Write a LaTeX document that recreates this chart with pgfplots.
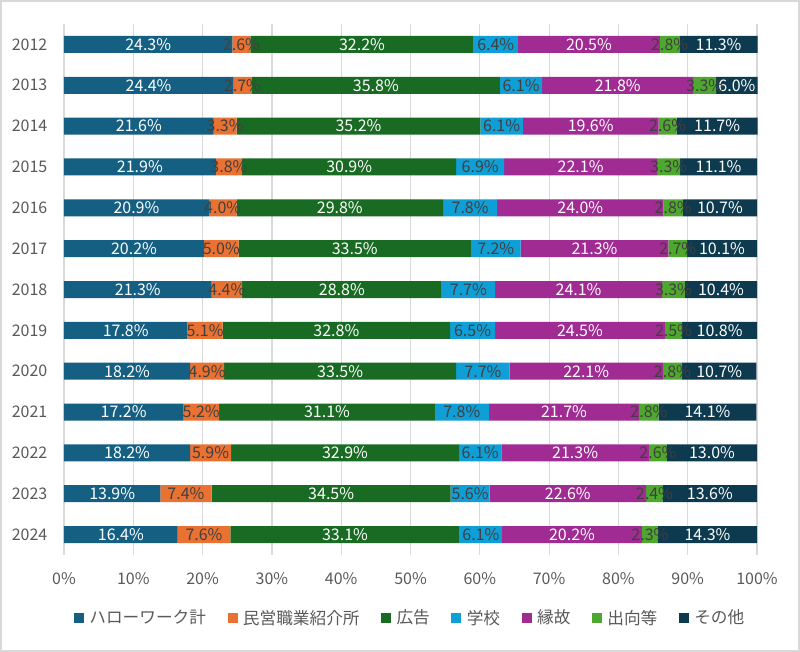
\documentclass[border=0pt]{standalone}
\usepackage{fontspec}
\setmainfont{Noto Sans CJK JP}
\usepackage{pgfplots}
\usepackage{pgfplotstable}
\pgfplotsset{compat=1.18}

\definecolor{hw}{HTML}{156082}
\definecolor{priv}{HTML}{E97132}
\definecolor{ad}{HTML}{196B24}
\definecolor{school}{HTML}{0F9ED5}
\definecolor{kin}{HTML}{A02B93}
\definecolor{secon}{HTML}{4EA72E}
\definecolor{other}{HTML}{0D3A4E}
\definecolor{gridgray}{HTML}{D9D9D9}
\definecolor{labgray}{HTML}{595959}
\definecolor{darktext}{HTML}{404040}

% share of each route, percent
\pgfplotstableread{
year hw   priv ad   school kin  secon other
2012 24.3 2.6  32.2 6.4    20.5 2.8   11.3
2013 24.4 2.7  35.8 6.1    21.8 3.3   6.0
2014 21.6 3.3  35.2 6.1    19.6 2.6   11.7
2015 21.9 3.8  30.9 6.9    22.1 3.3   11.1
2016 20.9 4.0  29.8 7.8    24.0 2.8   10.7
2017 20.2 5.0  33.5 7.2    21.3 2.7   10.1
2018 21.3 4.4  28.8 7.7    24.1 3.3   10.4
2019 17.8 5.1  32.8 6.5    24.5 2.5   10.8
2020 18.2 4.9  33.5 7.7    22.1 2.8   10.7
2021 17.2 5.2  31.1 7.8    21.7 2.8   14.1
2022 18.2 5.9  32.9 6.1    21.3 2.6   13.0
2023 13.9 7.4  34.5 5.6    22.6 2.4   13.6
2024 16.4 7.6  33.1 6.1    20.2 2.3   14.3
}\routes

\begin{document}
\begin{tikzpicture}
\begin{axis}[
    xbar stacked,
    scale only axis,
    clip=false,
    width=519.75pt,
    height=398.25pt,
    bar width=12.75pt,
    xmin=0, xmax=100,
    ymin=2011.5, ymax=2024.5,
    y dir=reverse,
    ytick={2012,...,2024},
    xtick={0,10,...,100},
    xticklabel={\pgfmathprintnumber{\tick}\%},
    /pgf/number format/assume math mode=true,
    y tick label style={/pgf/number format/1000 sep={}},
    tick label style={font=\fontsize{12}{14}\selectfont, text=labgray},
    xticklabel shift=9.5pt,
    yticklabel shift=9pt,
    axis line style={draw=none},
    major tick length=0pt,
    xmajorgrids,
    major grid style={draw=gridgray, line width=0.9pt},
    point meta=rawx,
    nodes near coords={\pgfmathprintnumber[fixed,fixed zerofill,precision=1]{\pgfplotspointmeta}\%},
    every node near coord/.append style={anchor=center, inner sep=0pt,
        font=\fontsize{12}{14}\selectfont},
    legend columns=-1,
    legend style={at={(0.5,-0.1186)}, anchor=center, draw=none, fill=none,
        font=\fontsize{12.5}{15}\selectfont, text=labgray,
        /tikz/every even column/.append style={column sep=14.2pt}},
    legend image code/.code={\fill[#1] (0pt,-3.75pt) rectangle (7.5pt,3.75pt);
        \path (9.5pt,0pt);},
]
\addplot[draw=none, fill=hw, every node near coord/.append style={text=white}] table[x=hw, y=year] {\routes};
\addlegendentry{ハローワーク計}
\addplot[draw=none, fill=priv, every node near coord/.append style={text=darktext}] table[x=priv, y=year] {\routes};
\addlegendentry{民営職業紹介所}
\addplot[draw=none, fill=ad, every node near coord/.append style={text=white}] table[x=ad, y=year] {\routes};
\addlegendentry{広告}
\addplot[draw=none, fill=school, every node near coord/.append style={text=darktext}] table[x=school, y=year] {\routes};
\addlegendentry{学校}
\addplot[draw=none, fill=kin, every node near coord/.append style={text=white}] table[x=kin, y=year] {\routes};
\addlegendentry{縁故}
\addplot[draw=none, fill=secon, every node near coord/.append style={text=darktext}] table[x=secon, y=year] {\routes};
\addlegendentry{出向等}
\addplot[draw=none, fill=other, every node near coord/.append style={text=white}] table[x=other, y=year] {\routes};
\addlegendentry{その他}
\end{axis}
\pgfresetboundingbox
\useasboundingbox (-48pt,-72.75pt) rectangle (552pt,416.25pt);
\draw[gridgray, line width=1.2pt] (-47.4pt,-72.15pt) rectangle (551.4pt,415.65pt);
\end{tikzpicture}
\end{document}
